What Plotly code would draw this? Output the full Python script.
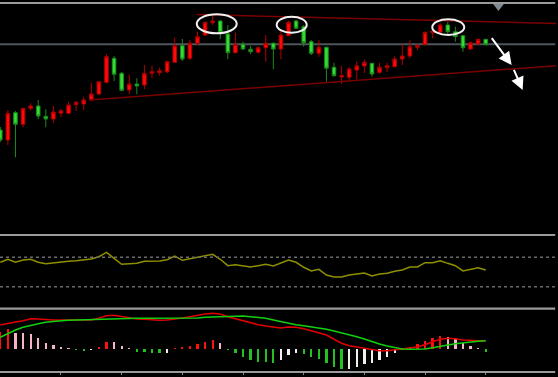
import plotly.graph_objects as go

# ---------------- data ----------------
bar_index = list(range(65))

open_ = [110, 100, 127.3, 115.7, 131.7, 134, 123.7, 121, 126.7, 126.7, 135.3, 136, 140, 146, 157.7, 181.7,
         166.7, 150, 156, 155, 166.7, 167.3, 168.3, 177.7, 194.3, 181.7, 196.7, 205, 217.3, 219, 206, 187.3,
         195.7, 190.7, 187.7, 192.3, 196.7, 191, 204.3, 219, 213.3, 198.3, 186.7, 192.7, 172.7, 163, 162.7,
         170, 174, 176.7, 167.7, 172.3, 173.3, 181, 184, 192.7, 195.3, 207.3, 207.7, 215, 208.3, 204.3, 191,
         196, 200.7]
high = [113, 130, 129, 131.7, 136.7, 140, 130.7, 134, 131.3, 138.3, 139, 143.3, 157.3, 158.3, 186, 184, 168,
        165.7, 161.7, 175, 174.3, 172.3, 179.3, 202.3, 201, 200, 208.3, 218.3, 224.3, 220, 215, 207.3, 198.3,
        194, 193, 205, 197.7, 209.3, 219.3, 220, 215, 200, 200, 193.3, 177.3, 174, 173.3, 179, 180.7, 177.3,
        177.3, 177.3, 184.3, 195.7, 200, 196.7, 208.3, 210, 216.7, 218.3, 213.3, 205, 198.3, 201.3, 201]
low = [98, 95, 82.7, 112.7, 129.3, 120.7, 112.7, 117.3, 122.7, 126, 129, 130, 139.3, 145, 156.7, 159, 148.7,
       145.7, 145.7, 150.7, 161.7, 164.3, 166.7, 177.7, 179, 180, 195, 204, 215, 200.7, 181, 186.7, 190, 186,
       186.7, 178.3, 170.7, 180.7, 204.3, 211, 193.3, 185, 183.3, 158.3, 163.3, 156, 159.3, 160.7, 166.7,
       163.3, 166, 168, 172.7, 175, 181.7, 190, 195.3, 201.7, 205, 206, 198.3, 188.3, 190, 195.3, 195]
close = [100, 126.7, 115.7, 131.7, 134, 124, 121, 128, 129.3, 135, 137.7, 140, 146, 158.3, 183.3, 165.7, 149.7,
         156, 154, 166.7, 168.3, 169.3, 178.3, 194.3, 181, 196.7, 203.3, 217.7, 219, 207.3, 187.3, 195.3, 191,
         188.3, 192.3, 196.7, 191, 205, 217.7, 211.7, 197.3, 186.7, 192.7, 171.7, 164.3, 164.3, 171, 174.3,
         177.7, 166, 172.7, 174.3, 181, 184, 193.3, 194.3, 207.7, 209, 215, 208.3, 203.3, 192.3, 197.3, 200.7,
         195.3]

rsi = [63.2, 67.3, 63.2, 66.3, 67.3, 63.2, 61.3, 62.7, 63.2, 64.6, 65.4, 66.3, 67.7, 70.8, 76.8, 68.6, 60.5,
       61.3, 61.8, 64.6, 65.0, 65.0, 66.7, 71.8, 65.9, 68.1, 70.4, 72.7, 74.1, 67.3, 58.6, 59.9, 58.6, 56.8,
       58.6, 60.5, 58.2, 62.2, 66.3, 63.2, 56.4, 51.4, 53.7, 45.9, 43.2, 43.2, 45.9, 47.3, 48.6, 44.6, 47.3,
       48.2, 51.0, 52.7, 56.8, 56.8, 62.7, 62.7, 65.4, 61.8, 58.6, 51.4, 54.1, 55.9, 52.7]
rsi_levels = [70, 30]

macd_main = [24, 25.7, 27, 28.3, 30.3, 30, 29.3, 29, 29, 29, 29, 29, 29, 30.7, 33.3, 33.7, 32.3, 31, 30, 29.7,
             29, 28.7, 29, 29.7, 31, 32.3, 33.7, 35, 35.7, 35, 32.3, 30.3, 28, 26, 24.3, 23, 22.3, 21, 22, 21.7,
             20.3, 18.3, 16.3, 14, 9.7, 5.7, 3.3, 2, 1, -0.7, -1.7, -1.7, -1, 0, 1, 2.3, 4.3, 7.3, 9.7, 10.7,
             10.3, 9, 8.3, 8.3, 8.3]
macd_signal = [11.7, 15.7, 19, 21.7, 23.7, 25.3, 26.7, 27.7, 28.3, 28.7, 29, 29.3, 29.3, 29.7, 30, 30.3, 30.7,
               30.7, 30.7, 30.7, 30.7, 30.7, 30.7, 30.3, 30.7, 30.7, 31, 31.7, 32, 32.3, 33, 33, 33, 32.3, 31.7,
               30.7, 29, 27.3, 25.7, 24.3, 23.3, 22.3, 21, 19.7, 18, 16.3, 14.3, 12.3, 10, 7.3, 5, 3, 1.3, 0,
               -0.3, -0.3, 0, 1.3, 3, 4, 5.3, 6.3, 7, 7.7, 8.3]
macd_hist = [17, 19.7, 16.3, 15.7, 14.7, 10.7, 6.3, 4, 2, 0.7, -0.5, -1.3, -0.3, 2.3, 7.3, 7.0, 3, 0.8, -2.7,
             -3.3, -3.7, -4.3, -3.7, 0.7, 1.3, 3.3, 5, 7.3, 9, 6.3, -1, -4.3, -7.7, -11, -12.7, -13.3, -13.7,
             -11, -6, -4.3, -5.3, -8.3, -10, -13.7, -17.7, -20.3, -20, -17.7, -15, -13.7, -11, -7.7, -4.3, -1,
             2, 4.7, 8.3, 10.7, 13, 11.7, 9.7, 5.7, 3, 1, -2.7]

# chart drawings (in bar index / price units)
level_price = 195.7
upper_trend = {"x": [25.9, 73.3], "y": [225.5, 216.5]}
lower_trend = {"x": [11.73, 73.3], "y": [140, 174.3]}
ellipses = [(25.9, 31.17, 206.7, 225.7), (36.44, 40.4, 207.3, 223.3), (56.95, 61.17, 205, 220.7)]
arrows = [((64.65, 203.3), (67.42, 175)), ((67.63, 171.7), (68.87, 150))]
shift_marker = (65.68, 234)

# ---------------- figure ----------------
H = 377.0
def frac(py):
    return 1 - py / H

# histogram colours: rising/falling above/below zero
hist_colors = []
for i, v in enumerate(macd_hist):
    prev = macd_hist[i - 1] if i > 0 else v
    if v >= 0:
        hist_colors.append("#ff1010" if v >= prev else "#f4b6c6")
    else:
        hist_colors.append("#22c022" if v <= prev else "#f0f0f0")

fig = go.Figure()

fig.add_trace(go.Candlestick(
    x=bar_index, open=open_, high=high, low=low, close=close,
    increasing=dict(line=dict(color="#b00000", width=1), fillcolor="#ff0a0a"),
    decreasing=dict(line=dict(color="#1a8a1a", width=1), fillcolor="#33dd33"),
    whiskerwidth=0, xaxis="x", yaxis="y", showlegend=False, hoverinfo="skip"))

fig.add_trace(go.Scatter(x=bar_index, y=rsi, mode="lines",
                         line=dict(color="#8f8f00", width=1.5), xaxis="x", yaxis="y2",
                         showlegend=False, hoverinfo="skip"))

fig.add_trace(go.Bar(x=bar_index, y=macd_hist, marker=dict(color=hist_colors, line=dict(width=0)),
                     width=0.3, xaxis="x", yaxis="y3", showlegend=False, hoverinfo="skip"))
fig.add_trace(go.Scatter(x=bar_index, y=macd_main, mode="lines",
                         line=dict(color="#e00000", width=1.6), xaxis="x", yaxis="y3",
                         showlegend=False, hoverinfo="skip"))
fig.add_trace(go.Scatter(x=bar_index, y=macd_signal, mode="lines",
                         line=dict(color="#10d010", width=1.6), xaxis="x", yaxis="y3",
                         showlegend=False, hoverinfo="skip"))

fig.add_trace(go.Scatter(x=[shift_marker[0]], y=[shift_marker[1]], mode="markers",
                         marker=dict(symbol="triangle-down", size=10, color="#7d8a96"),
                         xaxis="x", yaxis="y", showlegend=False, hoverinfo="skip", cliponaxis=False))

shapes = []
# level line
shapes.append(dict(type="line", xref="paper", x0=0, x1=0.995, yref="y", y0=level_price, y1=level_price,
                   line=dict(color="#4e555b", width=2), layer="below"))
# trend lines
for tl in (upper_trend, lower_trend):
    shapes.append(dict(type="line", xref="x", yref="y", x0=tl["x"][0], x1=tl["x"][1],
                       y0=tl["y"][0], y1=tl["y"][1], line=dict(color="#7a0000", width=1.5)))
# ellipses
for x0, x1, y0, y1 in ellipses:
    shapes.append(dict(type="circle", xref="x", yref="y", x0=x0, x1=x1, y0=y0, y1=y1,
                       line=dict(color="#f0f0f0", width=2)))
# rsi levels
for lv in rsi_levels:
    shapes.append(dict(type="line", xref="paper", x0=0, x1=0.995, yref="y2", y0=lv, y1=lv,
                       line=dict(color="#6a6a6a", width=1.5, dash="dot")))
# panel separators
for py in (3, 235, 308.7, 372):
    shapes.append(dict(type="line", xref="paper", yref="paper", x0=0, x1=0.995,
                       y0=frac(py), y1=frac(py), line=dict(color="#9a9a9a", width=2.2)))

annotations = []
for (tx, ty), (hx, hy) in arrows:
    annotations.append(dict(x=hx, y=hy, ax=tx, ay=ty, xref="x", yref="y", axref="x", ayref="y",
                            showarrow=True, arrowhead=2, arrowsize=1.3, arrowwidth=2,
                            arrowcolor="#ffffff", text=""))

x_range = [-0.04, 73.53]
fig.update_layout(
    width=558, height=377,
    margin=dict(l=0, r=0, t=0, b=0),
    paper_bgcolor="#000000", plot_bgcolor="#000000",
    showlegend=False, bargap=0, boxgap=0.33,
    xaxis=dict(range=x_range, domain=[0, 1], anchor="y3", showgrid=False, zeroline=False,
               showticklabels=False, ticks="outside", ticklen=3, tickcolor="#8a8a8a",
               tickvals=[8, 16, 24, 32, 40, 48, 56, 64], rangeslider=dict(visible=False),
               showline=False),
    yaxis=dict(domain=[frac(233), frac(5)], range=[7, 235], showgrid=False, zeroline=False,
               showticklabels=False, anchor="x"),
    yaxis2=dict(domain=[frac(308.7), frac(235.3)], range=[0, 100], showgrid=False, zeroline=False,
                showticklabels=False, anchor="x"),
    yaxis3=dict(domain=[frac(371), frac(310)], range=[-22, 39], showgrid=False, zeroline=False,
                showticklabels=False, anchor="x"),
    shapes=shapes, annotations=annotations,
)

fig.write_html("out.html", config={"displayModeBar": False},
               post_script="document.body.style.margin='0';document.body.style.padding='0';"
                           "document.body.style.background='#000';")
